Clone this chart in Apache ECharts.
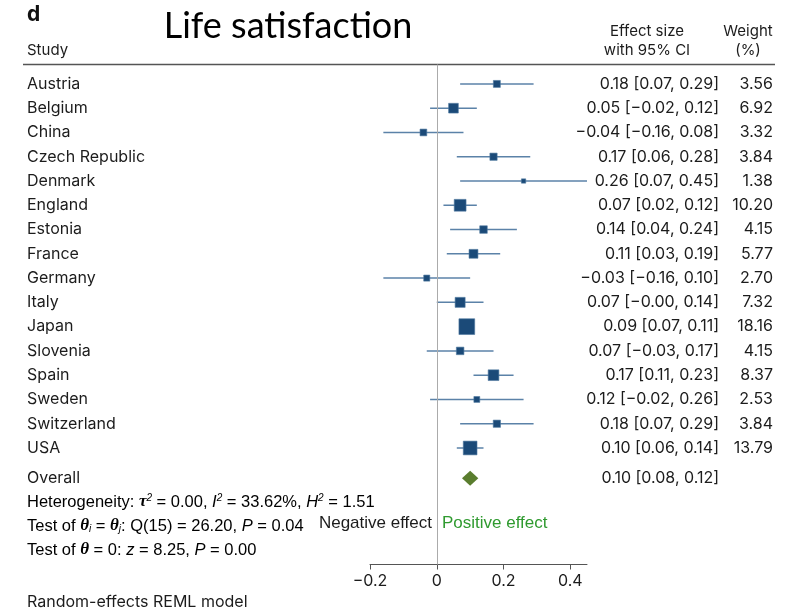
<!DOCTYPE html>
<html>
<head>
<meta charset="utf-8">
<script src="https://cdn.jsdelivr.net/npm/echarts@6/dist/echarts.min.js"></script>
<style>
  html, body { margin: 0; padding: 0; background: #fff; }
  #chart { width: 802px; height: 613px; }
</style>
</head>
<body>
<div id="chart"></div>
<script>
// Study-level estimates for life satisfaction
const studies = ['Austria', 'Belgium', 'China', 'Czech Republic', 'Denmark', 'England', 'Estonia', 'France',
  'Germany', 'Italy', 'Japan', 'Slovenia', 'Spain', 'Sweden', 'Switzerland', 'USA'];
const effects = [0.18, 0.05, -0.04, 0.17, 0.26, 0.07, 0.14, 0.11, -0.03, 0.07, 0.09, 0.07, 0.17, 0.12, 0.18, 0.10];
const ciLow = [0.07, -0.02, -0.16, 0.06, 0.07, 0.02, 0.04, 0.03, -0.16, -0, 0.07, -0.03, 0.11, -0.02, 0.07, 0.06];
const ciHigh = [0.29, 0.12, 0.08, 0.28, 0.45, 0.12, 0.24, 0.19, 0.10, 0.14, 0.11, 0.17, 0.23, 0.26, 0.29, 0.14];
const weights = [3.56, 6.92, 3.32, 3.84, 1.38, 10.20, 4.15, 5.77, 2.70, 7.32, 18.16, 4.15, 8.37, 2.53, 3.84, 13.79];

// Pooled estimate
const overallLabel = 'Overall';
const overallEffect = 0.10;
const overallLow = 0.08;
const overallHigh = 0.12;

// Axis ticks
const xTicks = [-0.2, 0, 0.2, 0.4];

// Model summary lines
const heterogeneity = { tau2: '0.00', i2: '33.62%', h2: '1.51' };
const qTest = { df: 15, q: '26.20', p: '0.04' };
const zTest = { z: '8.25', p: '0.00' };

const MINUS = '\u2212';
const TEXT = '#1c1c1c';
const MARK = '#1b4a78';
const CI = '#5b82a8';
const DIAMOND = '#5a7d2e';
const SANS = 'Inter, Roboto, "DejaVu Sans", sans-serif';
const NARROW = '"Liberation Sans Narrow", "Liberation Sans", sans-serif';
const SERIF = '"Liberation Serif", "DejaVu Serif", serif';
const OVERALL_ROW = 16.25;
const SQUARE_SCALE = 3.7;

function fmt(v) {
  const neg = v < 0 || Object.is(v, -0);
  return (neg ? MINUS : '') + Math.abs(v).toFixed(2);
}
function ciText(e, lo, hi) {
  return fmt(e) + ' [' + fmt(lo) + ', ' + fmt(hi) + ']';
}

const rowData = studies.map((s, i) => [i, effects[i], ciLow[i], ciHigh[i], weights[i]]);

const chart = echarts.init(document.getElementById('chart'), null, { renderer: 'canvas' });

function cellText(x, y, text, align, size) {
  return {
    type: 'text', x: x, y: y, silent: true,
    style: { text: text, fill: TEXT, fontSize: size || 16, fontFamily: SANS, align: align, verticalAlign: 'middle' }
  };
}

const richStyles = {
  n: { fontSize: 16.5, fontFamily: NARROW, color: TEXT },
  i: { fontSize: 16.5, fontFamily: NARROW, fontStyle: 'italic', color: TEXT },
  g: { fontSize: 17, fontFamily: SERIF, fontStyle: 'italic', fontWeight: 'bold', color: TEXT },
  sup: { fontSize: 10, fontFamily: NARROW, fontStyle: 'italic', color: TEXT, verticalAlign: 'top' },
  sub: { fontSize: 10, fontFamily: NARROW, fontStyle: 'italic', color: TEXT, verticalAlign: 'bottom' }
};

chart.setOption({
  animation: false,
  backgroundColor: '#fff',
  grid: { left: 370, right: 215, top: 64.5, height: 500, containLabel: false },
  xAxis: {
    type: 'value', min: -0.2, max: 0.45, interval: 0.2,
    axisLine: { show: true, onZero: false, lineStyle: { color: '#555', width: 1 } },
    axisTick: { show: true, length: 5, customValues: xTicks, lineStyle: { color: '#555' } },
    axisLabel: {
      customValues: xTicks, fontSize: 16, fontFamily: SANS, color: TEXT, margin: 9,
      formatter: v => (v === 0 ? '0' : (v < 0 ? MINUS : '') + Math.abs(v).toFixed(1))
    },
    splitLine: { show: false }
  },
  yAxis: { type: 'value', min: -0.8, max: 19.8, inverse: true, show: false },
  graphic: [
    { type: 'text', x: 27, y: 15, style: { text: 'd', fontSize: 21, fontWeight: 'bold', fontFamily: SANS, fill: '#111', verticalAlign: 'middle' } },
    { type: 'text', x: 288, y: 26, style: { text: 'Life satisfaction', fontSize: 36, fontFamily: 'Lato, "Open Sans", sans-serif', fill: '#000', align: 'center', verticalAlign: 'middle' } },
    cellText(27, 50, 'Study', 'left', 15),
    cellText(647, 31, 'Effect size', 'center', 15),
    cellText(647, 50, 'with 95% CI', 'center', 15),
    cellText(748, 31, 'Weight', 'center', 15),
    cellText(748, 50, '(%)', 'center', 15),
    { type: 'line', shape: { x1: 23, y1: 64.5, x2: 775, y2: 64.5 }, style: { stroke: '#555', lineWidth: 1.3 } },
    {
      type: 'text', x: 27, y: 502,
      style: {
        text: '{n|Heterogeneity: }{g|\u03c4}{sup|2}{n| = ' + heterogeneity.tau2 + ', }{i|I}{sup|2}{n| = ' + heterogeneity.i2 +
          ', }{i|H}{sup|2}{n| = ' + heterogeneity.h2 + '}',
        rich: richStyles, verticalAlign: 'middle'
      }
    },
    {
      type: 'text', x: 27, y: 526,
      style: {
        text: '{n|Test of }{g|\u03b8}{sub|i}{n| = }{g|\u03b8}{sub|j}{n|: Q(' + qTest.df + ') = ' + qTest.q + ', }{i|P}{n| = ' + qTest.p + '}',
        rich: richStyles, verticalAlign: 'middle'
      }
    },
    {
      type: 'text', x: 27, y: 550,
      style: {
        text: '{n|Test of }{g|\u03b8}{n| = 0: }{i|z}{n| = ' + zTest.z + ', }{i|P}{n| = ' + zTest.p + '}',
        rich: richStyles, verticalAlign: 'middle'
      }
    },
    { type: 'text', x: 432, y: 523, style: { text: 'Negative effect', fontSize: 17, fontFamily: NARROW, fill: TEXT, align: 'right', verticalAlign: 'middle' } },
    { type: 'text', x: 442, y: 523, style: { text: 'Positive effect', fontSize: 17, fontFamily: NARROW, fill: '#2f9a2f', align: 'left', verticalAlign: 'middle' } },
    cellText(27, 602, 'Random-effects REML model', 'left', 16)
  ],
  series: [
    {
      type: 'custom',
      name: 'Studies',
      clip: false,
      data: rowData,
      renderItem: function (params, api) {
        const i = params.dataIndex;
        const row = api.value(0);
        const c = api.coord([api.value(1), row]);
        const lo = api.coord([api.value(2), row]);
        const hi = api.coord([api.value(3), row]);
        const side = SQUARE_SCALE * Math.sqrt(api.value(4));
        const y = c[1];
        return {
          type: 'group',
          children: [
            { type: 'line', shape: { x1: lo[0], y1: y, x2: hi[0], y2: y }, style: { stroke: CI, lineWidth: 1.5 } },
            { type: 'rect', shape: { x: c[0] - side / 2, y: y - side / 2, width: side, height: side }, style: { fill: MARK, stroke: '#4f78a0', lineWidth: 0.6 } },
            cellText(27, y, studies[i], 'left'),
            cellText(719, y, ciText(effects[i], ciLow[i], ciHigh[i]), 'right'),
            cellText(773, y, weights[i].toFixed(2), 'right')
          ]
        };
      },
      markLine: {
        silent: true, symbol: 'none', animation: false,
        label: { show: false },
        lineStyle: { color: '#ababab', width: 1, type: 'solid' },
        data: [{ xAxis: 0 }]
      },
      z: 3
    },
    {
      type: 'custom',
      name: 'Overall',
      clip: false,
      data: [[OVERALL_ROW, overallEffect, overallLow, overallHigh]],
      renderItem: function (params, api) {
        const row = api.value(0);
        const c = api.coord([api.value(1), row]);
        const lo = api.coord([api.value(2), row]);
        const hi = api.coord([api.value(3), row]);
        const h = 7.5;
        const y = c[1];
        return {
          type: 'group',
          children: [
            { type: 'polygon', shape: { points: [[lo[0] - 1.5, y], [c[0], y - h], [hi[0] + 1.5, y], [c[0], y + h]] }, style: { fill: DIAMOND } },
            cellText(27, y, overallLabel, 'left'),
            cellText(719, y, ciText(overallEffect, overallLow, overallHigh), 'right')
          ]
        };
      },
      z: 3
    }
  ]
});
</script>
</body>
</html>
